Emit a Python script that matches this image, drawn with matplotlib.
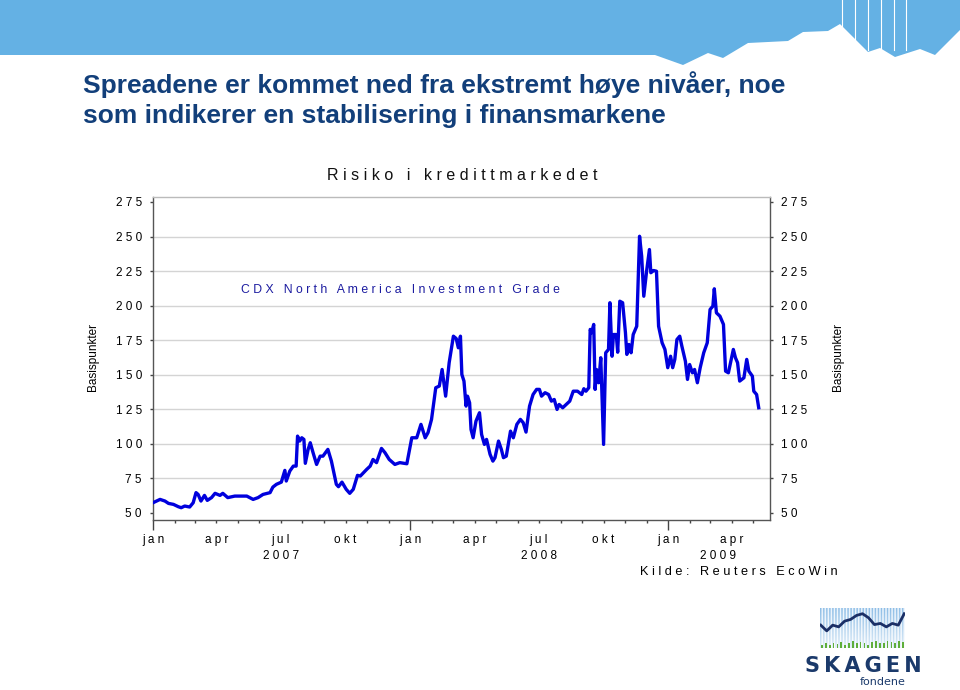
import matplotlib
matplotlib.use("Agg")
import matplotlib.pyplot as plt
import matplotlib.dates as mdates
from matplotlib.patches import Polygon
import numpy as np
import pandas as pd

# CDX North America Investment Grade, basispunkter
dates = [
    "2007-01-01", "2007-01-11", "2007-01-18", "2007-01-23", "2007-01-30", "2007-02-06",
    "2007-02-10", "2007-02-15", "2007-02-22", "2007-02-27", "2007-03-03", "2007-03-06",
    "2007-03-10", "2007-03-15", "2007-03-19", "2007-03-25", "2007-03-30", "2007-04-06",
    "2007-04-10", "2007-04-17", "2007-04-27", "2007-05-14", "2007-05-23", "2007-05-30",
    "2007-06-06", "2007-06-16", "2007-06-20", "2007-06-25", "2007-07-02", "2007-07-07",
    "2007-07-09", "2007-07-14", "2007-07-19", "2007-07-23", "2007-07-25", "2007-07-28",
    "2007-07-31", "2007-08-03", "2007-08-05", "2007-08-09", "2007-08-12", "2007-08-16",
    "2007-08-21", "2007-08-26", "2007-08-30", "2007-09-06", "2007-09-11", "2007-09-18",
    "2007-09-21", "2007-09-26", "2007-10-02", "2007-10-07", "2007-10-12", "2007-10-18",
    "2007-10-22", "2007-10-31", "2007-11-05", "2007-11-09", "2007-11-14", "2007-11-21",
    "2007-11-26", "2007-12-02", "2007-12-10", "2007-12-17", "2007-12-27",
    "2008-01-03", "2008-01-10", "2008-01-16", "2008-01-22", "2008-01-26", "2008-01-31",
    "2008-02-06", "2008-02-11", "2008-02-15", "2008-02-20", "2008-02-25", "2008-03-02",
    "2008-03-06", "2008-03-09", "2008-03-12", "2008-03-14", "2008-03-17", "2008-03-20",
    "2008-03-22", "2008-03-25", "2008-03-27", "2008-03-30", "2008-04-03", "2008-04-08",
    "2008-04-11", "2008-04-15", "2008-04-18", "2008-04-23", "2008-04-27", "2008-04-30",
    "2008-05-05", "2008-05-09", "2008-05-12", "2008-05-16", "2008-05-22", "2008-05-26",
    "2008-05-31", "2008-06-05", "2008-06-09", "2008-06-13", "2008-06-18", "2008-06-23",
    "2008-06-28", "2008-07-02", "2008-07-05", "2008-07-10", "2008-07-15", "2008-07-19",
    "2008-07-23", "2008-07-27", "2008-07-30", "2008-08-04", "2008-08-09", "2008-08-14",
    "2008-08-19", "2008-08-25", "2008-08-31", "2008-09-03", "2008-09-06", "2008-09-10",
    "2008-09-12", "2008-09-14", "2008-09-17", "2008-09-19", "2008-09-21", "2008-09-24",
    "2008-09-27", "2008-10-01", "2008-10-04", "2008-10-08", "2008-10-10", "2008-10-13",
    "2008-10-15", "2008-10-19", "2008-10-21", "2008-10-24", "2008-10-28", "2008-11-01",
    "2008-11-03", "2008-11-06", "2008-11-09", "2008-11-12", "2008-11-17", "2008-11-21",
    "2008-11-24", "2008-11-27", "2008-12-01", "2008-12-05", "2008-12-07", "2008-12-11",
    "2008-12-15", "2008-12-18", "2008-12-23", "2008-12-27", "2008-12-31",
    "2009-01-04", "2009-01-07", "2009-01-10", "2009-01-13", "2009-01-17", "2009-01-20",
    "2009-01-25", "2009-01-28", "2009-01-31", "2009-02-04", "2009-02-07", "2009-02-11",
    "2009-02-15", "2009-02-20", "2009-02-25", "2009-03-01", "2009-03-05", "2009-03-07",
    "2009-03-10", "2009-03-15", "2009-03-20", "2009-03-23", "2009-03-27", "2009-03-30",
    "2009-04-03", "2009-04-06", "2009-04-09", "2009-04-12", "2009-04-18", "2009-04-22",
    "2009-04-25", "2009-04-30", "2009-05-02", "2009-05-06", "2009-05-09",
]
cdx = [
    57.4, 59.8, 58.6, 56.9, 56.2, 54.5,
    53.8, 55.0, 54.3, 57.4, 64.7, 63.4,
    58.6, 62.7, 59.1, 61.1, 64.2, 62.7,
    64.2, 61.1, 62.2, 62.2, 59.8, 61.1,
    63.4, 64.7, 68.7, 70.7, 72.3, 80.8,
    73.1, 80.3, 83.9, 83.9, 105.6, 102.0,
    104.4, 103.2, 85.9, 96.0, 100.8, 93.6,
    85.1, 91.1, 91.1, 96.0, 87.5, 70.7,
    69.0, 72.3, 67.1, 64.2, 67.1, 77.2,
    76.7, 81.5, 83.9, 88.7, 86.4, 96.7,
    93.6, 88.7, 85.1, 86.4, 85.6,
    104.4, 104.4, 114.1, 104.4, 108.1, 117.7,
    140.6, 141.8, 153.8, 134.5, 158.7, 177.9,
    176.2, 169.5, 177.9, 150.2, 145.4, 127.3,
    134.5, 129.7, 110.4, 104.4, 116.4, 122.5,
    106.8, 99.6, 103.2, 92.4, 87.5, 90.0,
    102.0, 96.0, 90.0, 91.1, 109.2, 104.4,
    114.1, 117.7, 115.3, 108.5, 127.3, 135.7,
    139.4, 139.4, 134.5, 137.0, 135.7, 130.9,
    132.1, 124.9, 128.5, 126.1, 128.5, 130.9,
    138.1, 138.1, 135.7, 139.9, 138.1, 140.6,
    182.8, 180.4, 186.4, 139.4, 153.8, 144.2,
    162.3, 99.6, 165.9, 168.3, 202.1, 163.4,
    179.1, 179.1, 166.3, 203.2, 202.1, 180.4,
    164.7, 171.9, 165.9, 179.1, 185.1, 250.2,
    235.8, 206.8, 224.9, 240.6, 223.8, 225.4,
    224.9, 185.1, 173.1, 168.3, 155.1,
    163.4, 155.1, 161.1, 175.5, 177.9, 170.7,
    159.8, 146.6, 157.4, 151.4, 153.8, 144.2,
    155.1, 165.9, 173.1, 197.2, 199.6, 212.2,
    194.8, 192.4, 186.4, 152.6, 151.4, 158.7,
    168.3, 162.3, 158.7, 145.4, 147.8, 161.1,
    152.6, 149.0, 138.1, 135.7, 126.1,
]

y_ticks = [50, 75, 100, 125, 150, 175, 200, 225, 250, 275]
month_names = {1: "jan", 4: "apr", 7: "jul", 10: "okt"}
years = ["2007", "2008", "2009"]
year_pos = ["2007-07-01", "2008-07-01", "2009-03-12"]

# logo decoration values
logo_line = [40, 30, 40, 37, 47, 50, 57, 60, 53, 41, 43, 37, 43, 40, 60]
logo_bars = [6, 8, 5, 9, 7, 11, 6, 9, 12, 8, 10, 9, 6, 11, 13, 9, 8, 12, 10, 9, 13, 11]

W, H = 960, 690
plt.rcParams["font.family"] = ["Liberation Sans", "DejaVu Sans"]


def fx(x):
    return x / W


def fy(y):
    return 1 - y / H


def spaced(s, gap=" "):
    return gap.join(s)


fig = plt.figure(figsize=(9.6, 6.9), dpi=100)

# header band
band = [(0, 0), (960, 0), (960, 30), (935, 55), (920, 49), (895, 57), (880, 48),
        (868, 52), (840, 24), (828, 31), (803, 32), (788, 41), (748, 43), (723, 58),
        (708, 53), (683, 65), (655, 55), (0, 55)]
fig.patches.append(Polygon([(fx(x), fy(y)) for x, y in band], closed=True,
                           transform=fig.transFigure, facecolor="#64b1e4",
                           edgecolor="none", zorder=0))
for xv in [842, 855, 868, 881, 894, 906]:
    fig.lines.append(plt.Line2D([fx(xv), fx(xv)], [fy(0), fy(50)], transform=fig.transFigure,
                                color="white", lw=0.8))

title_font = ["Liberation Sans Narrow", "Liberation Sans", "DejaVu Sans"]
fig.text(fx(83), fy(85), "Spreadene er kommet ned fra ekstremt høye nivåer, noe",
         family=title_font, fontweight="bold", fontsize=19, color="#123f7a", va="center")
fig.text(fx(83), fy(116), "som indikerer en stabilisering i finansmarkene",
         family=title_font, fontweight="bold", fontsize=19, color="#123f7a", va="center")

# main chart
ax = fig.add_axes([fx(153), fy(520), fx(770) - fx(153), fy(197) - fy(520)])
x = pd.to_datetime(dates)
ax.plot(x, cdx, color="#0000dd", lw=2.4, solid_joinstyle="round", zorder=3)

ax.set_xlim(pd.Timestamp("2007-01-01"), pd.Timestamp("2009-05-25"))
ax.set_ylim(44.9, 278.6)
ax.set_yticks(y_ticks)
ax.set_yticklabels([spaced(str(v)) for v in y_ticks], fontsize=8.5)
for v in y_ticks[1:-1]:
    ax.axhline(v, color="#d4d4d4", lw=1, zorder=1)

ax.xaxis.set_major_locator(mdates.YearLocator())
ax.xaxis.set_minor_locator(mdates.MonthLocator())
ax.xaxis.set_major_formatter(plt.FuncFormatter(lambda v, p: spaced("jan")))
ax.xaxis.set_minor_formatter(plt.FuncFormatter(
    lambda v, p: spaced(month_names.get(mdates.num2date(v).month, ""))
    if mdates.num2date(v).month != 1 else ""))
ax.tick_params(axis="x", which="major", length=7.5, width=1, color="#444444",
               pad=2.5, labelsize=8.5)
ax.tick_params(axis="x", which="minor", length=2.5, width=1, color="#444444",
               pad=7.5, labelsize=8.5)
ax.tick_params(axis="y", which="major", length=2, width=1, color="#444444",
               left=True, right=True, labelleft=True, labelright=True, pad=6)
for s in ax.spines.values():
    s.set_color("#555555")
    s.set_linewidth(1)
ax.spines["top"].set_color("#bbbbbb")

for yr, pos in zip(years, year_pos):
    ax.text(pd.Timestamp(pos), -0.11, spaced(yr), transform=ax.get_xaxis_transform(),
            ha="center", va="center", fontsize=8.5)

fig.text(fx(462), fy(176), spaced("Risiko i kredittmarkedet"), ha="center",
         va="center", fontsize=11.5, color="#111111")
fig.text(fx(241), fy(290), spaced("CDX North America Investment Grade"),
         ha="left", va="center", fontsize=8.8, color="#1c1ca0")
fig.text(fx(838), fy(572), spaced("Kilde: Reuters EcoWin"), ha="right",
         va="center", fontsize=9.2)
fig.text(fx(93), fy(357), "Basispunkter", rotation=90, ha="center", va="center", fontsize=8.5)
fig.text(fx(838), fy(357), "Basispunkter", rotation=90, ha="center", va="center", fontsize=8.5)

# logo
lg = fig.add_axes([fx(820), fy(648), fx(905) - fx(820), fy(608) - fy(648)])
stripes = np.zeros((40, 56, 3))
for i in range(56):
    for j in range(40):
        fade = 0.3 + 0.7 * (j / 39)
        c = np.array([0.55, 0.74, 0.90]) if i % 2 == 0 else np.array([0.93, 0.96, 0.99])
        stripes[j, i] = 1 - (1 - c) * fade
lg.imshow(stripes, extent=(0, len(logo_bars), 0, 70), aspect="auto", origin="lower", zorder=0)
lg.bar(np.arange(len(logo_bars)) + 0.5, logo_bars, width=0.45, color="#5fae3a", zorder=1)
lg.plot(np.linspace(0.2, len(logo_bars) - 0.2, len(logo_line)), logo_line,
        color="#1b2f66", lw=2, zorder=2)
lg.set_xlim(0, len(logo_bars))
lg.set_ylim(0, 70)
lg.axis("off")
fig.text(fx(863), fy(666), spaced("SKAGEN", "\u2009"), ha="center", va="center",
         family=["DejaVu Sans"], fontweight="bold", fontsize=15, color="#1b3a6b")
fig.text(fx(906), fy(682), "fondene", ha="right", va="center",
         family=["DejaVu Sans"], fontsize=8, color="#1b3a6b")

fig.savefig("out.png", dpi=100)
